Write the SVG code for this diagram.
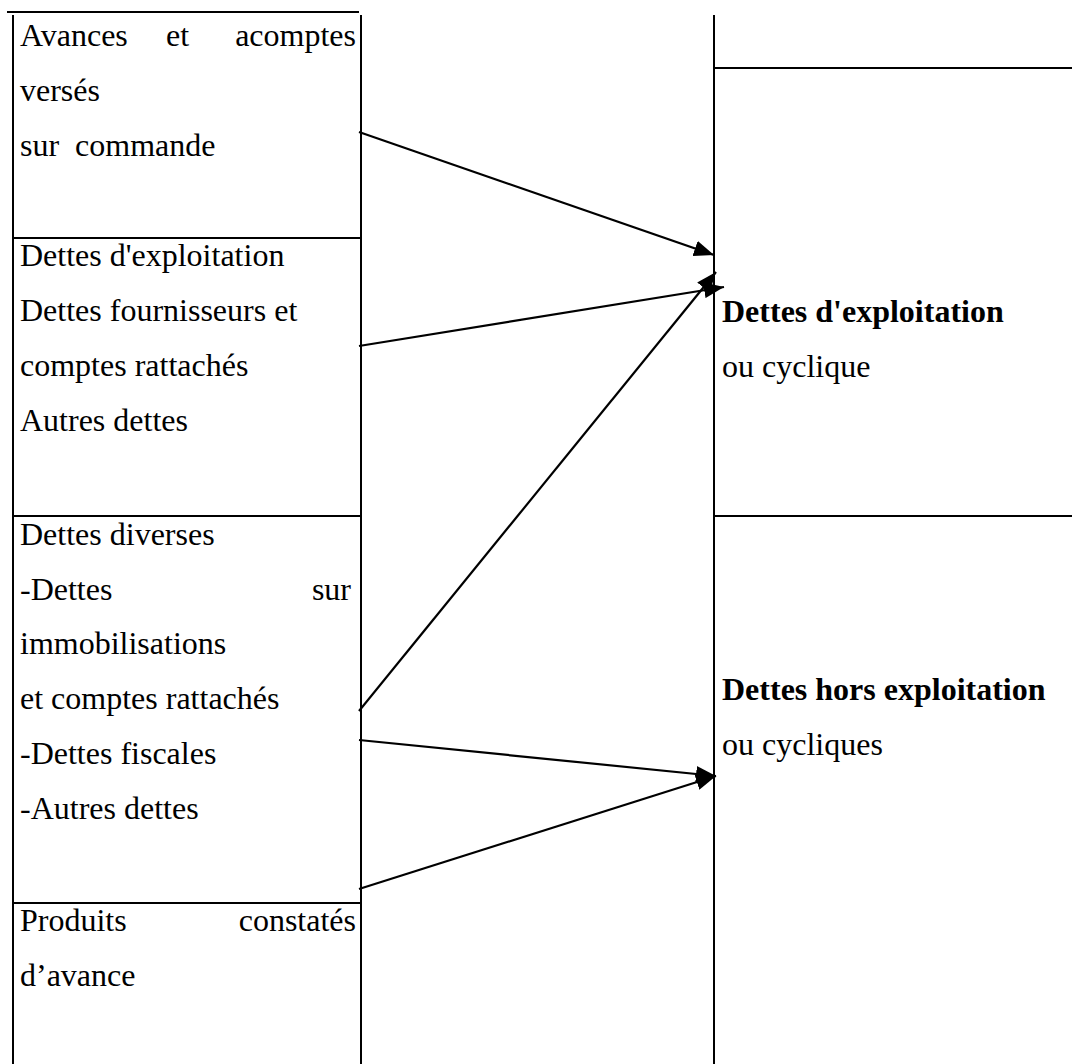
<svg xmlns="http://www.w3.org/2000/svg" width="1072" height="1064" viewBox="0 0 1072 1064">
  <style>
    .rule { stroke: #000; stroke-width: 2; fill: none; }
    .t { font-family: "Liberation Serif", "Times New Roman", serif; font-size: 32px; fill: #000; }
    .b { font-weight: bold; }
    .link { stroke: #000; stroke-width: 2.2; fill: none; marker-end: url(#head); }
  </style>
  <defs>
    <marker id="head" viewBox="0 0 10 10" refX="10" refY="5" markerUnits="userSpaceOnUse" markerWidth="20" markerHeight="16" orient="auto" preserveAspectRatio="none">
      <path d="M0,0 L10,5 L0,10 z" fill="#000"/>
    </marker>
  </defs>
  <rect width="1072" height="1064" fill="#fff"/>

  <!-- table frame -->
  <g id="frame">
    <line class="rule" x1="7" y1="12" x2="359" y2="12"/>
    <line class="rule" x1="13" y1="15" x2="13" y2="1064"/>
    <line class="rule" x1="361" y1="15" x2="361" y2="1064"/>
    <line class="rule" x1="714" y1="15" x2="714" y2="1064"/>
    <line class="rule" x1="13" y1="238" x2="361" y2="238"/>
    <line class="rule" x1="13" y1="516" x2="361" y2="516"/>
    <line class="rule" x1="13" y1="903" x2="361" y2="903"/>
    <line class="rule" x1="714" y1="68" x2="1072" y2="68"/>
    <line class="rule" x1="714" y1="516" x2="1072" y2="516"/>
  </g>

  <!-- left column cells -->
  <g id="avances">
    <text class="t" x="20" y="46">Avances</text>
    <text class="t" x="166" y="46">et</text>
    <text class="t" x="356" y="46" text-anchor="end">acomptes</text>
    <text class="t" x="20" y="101">versés</text>
    <text class="t" x="20" y="156" xml:space="preserve">sur  commande</text>
  </g>
  <g id="dettes-exploitation">
    <text class="t" x="20" y="266">Dettes d'exploitation</text>
    <text class="t" x="20" y="321">Dettes fournisseurs et</text>
    <text class="t" x="20" y="376">comptes rattachés</text>
    <text class="t" x="20" y="431">Autres dettes</text>
  </g>
  <g id="dettes-diverses">
    <text class="t" x="20" y="545">Dettes diverses</text>
    <text class="t" x="20" y="600">-Dettes</text>
    <text class="t" x="351" y="600" text-anchor="end">sur</text>
    <text class="t" x="20" y="654">immobilisations</text>
    <text class="t" x="20" y="709">et comptes rattachés</text>
    <text class="t" x="20" y="764">-Dettes fiscales</text>
    <text class="t" x="20" y="819">-Autres dettes</text>
  </g>
  <g id="produits">
    <text class="t" x="20" y="931">Produits</text>
    <text class="t" x="356" y="931" text-anchor="end">constatés</text>
    <text class="t" x="20" y="986">d’avance</text>
  </g>

  <!-- right column cells -->
  <g id="exploitation">
    <text class="t b" x="722" y="322">Dettes d'exploitation</text>
    <text class="t" x="722" y="377">ou cyclique</text>
  </g>
  <g id="hors-exploitation">
    <text class="t b" x="722" y="700">Dettes hors exploitation</text>
    <text class="t" x="722" y="755">ou cycliques</text>
  </g>

  <!-- connectors -->
  <g id="connectors">
    <line class="link" x1="359" y1="132" x2="714" y2="255"/>
    <line class="link" x1="359" y1="346" x2="724" y2="287"/>
    <line class="link" x1="359" y1="711" x2="716" y2="272"/>
    <line class="link" x1="359" y1="740" x2="716" y2="776"/>
    <line class="link" x1="359" y1="889" x2="716" y2="776"/>
  </g>
</svg>
